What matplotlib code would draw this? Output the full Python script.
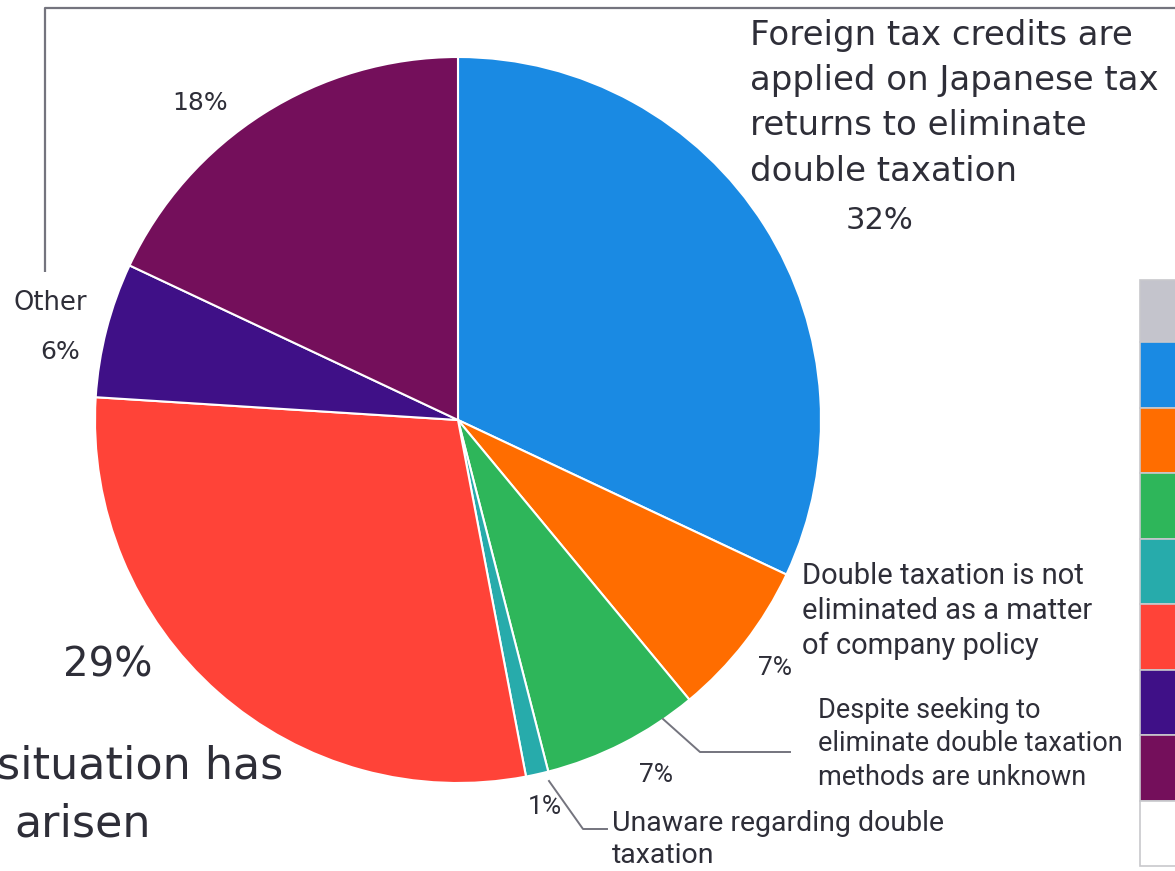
import matplotlib.pyplot as plt
from matplotlib.patches import Rectangle

# share of companies by how double taxation is handled (%)
categories = [
    "Foreign tax credits are\napplied on Japanese tax\nreturns to eliminate\ndouble taxation",
    "Double taxation is not\neliminated as a matter\nof company policy",
    "Despite seeking to\neliminate double taxation\nmethods are unknown",
    "Unaware regarding double\ntaxation",
    "situation has\narisen",
    "Other",
    "",
]
values = [32, 7, 7, 1, 29, 6, 18]
colors = ["#1a8ae3", "#ff6d00", "#2eb65a", "#27abab", "#ff4338", "#3f1087", "#740f5b"]

W, H = 1175, 871
fig = plt.figure(figsize=(W / 100, H / 100), dpi=100)
ax = fig.add_axes([0, 0, 1, 1])

# pie drawn in pixel-like coordinates (y pointing down)
ax.pie(values, colors=colors, center=(458, 420), radius=363,
       startangle=-90, counterclock=True,
       wedgeprops=dict(edgecolor="white", linewidth=1.5))
ax.set_xlim(0, W)
ax.set_ylim(H, 0)
ax.set_aspect("equal")
ax.axis("off")

txt = "#2e2e38"
line_c = "#74747e"
pct = [f"{v}%" for v in values]

# frame line around the top-left corner
ax.plot([45, 45, W], [272, 8, 8], color=line_c, lw=1.6, solid_capstyle="butt")

# big slices
ax.text(750, 19, categories[0], fontsize=24.5, color=txt, va="top", ha="left",
        linespacing=1.47, family="DejaVu Sans")
ax.text(880, 220, pct[0], fontsize=22, color=txt, va="center", ha="center")
ax.text(108, 665, pct[4], fontsize=29, color=txt, va="center", ha="center")
ax.text(283, 766, categories[4].split("\n")[0], fontsize=32, color=txt,
        va="center", ha="right")
ax.text(83, 824, categories[4].split("\n")[1], fontsize=32, color=txt,
        va="center", ha="center")
ax.text(200, 103, pct[6], fontsize=18, color=txt, va="center", ha="center")
ax.text(50, 303, categories[5], fontsize=18.5, color=txt, va="center", ha="center")
ax.text(60, 352, pct[5], fontsize=18, color=txt, va="center", ha="center")

# small slices on the lower right
ax.text(802, 562, categories[1], fontsize=21, color=txt, va="top", ha="left",
        linespacing=1.32, family="Roboto")
ax.text(775, 668, pct[1], fontsize=19, color=txt, va="center", ha="center",
        family="Roboto")

ax.plot([663, 700, 790], [719, 752, 752], color=line_c, lw=1.4)
ax.text(818, 697, categories[2], fontsize=19.5, color=txt, va="top", ha="left",
        linespacing=1.3, family="Roboto")
ax.text(656, 775, pct[2], fontsize=19, color=txt, va="center", ha="center",
        family="Roboto")

ax.plot([549, 583, 607], [781, 829, 829], color=line_c, lw=1.4)
ax.text(612, 810, categories[3], fontsize=20.5, color=txt, va="top", ha="left",
        linespacing=1.25, family="Roboto")
ax.text(545, 807, pct[3], fontsize=19, color=txt, va="center", ha="center",
        family="Roboto")

# colour key table on the right edge
x0 = 1140
ax.add_patch(Rectangle((x0, 280), 60, 62, facecolor="#c4c4cc",
                       edgecolor="#c8c8cc", lw=1.2))
row_h = (866 - 342) / (len(colors) + 1)
for i, c in enumerate(colors + ["white"]):
    ax.add_patch(Rectangle((x0, 342 + i * row_h), 60, row_h, facecolor=c,
                           edgecolor="#c8c8cc", lw=1.2))

fig.savefig("out.png", dpi=100)
